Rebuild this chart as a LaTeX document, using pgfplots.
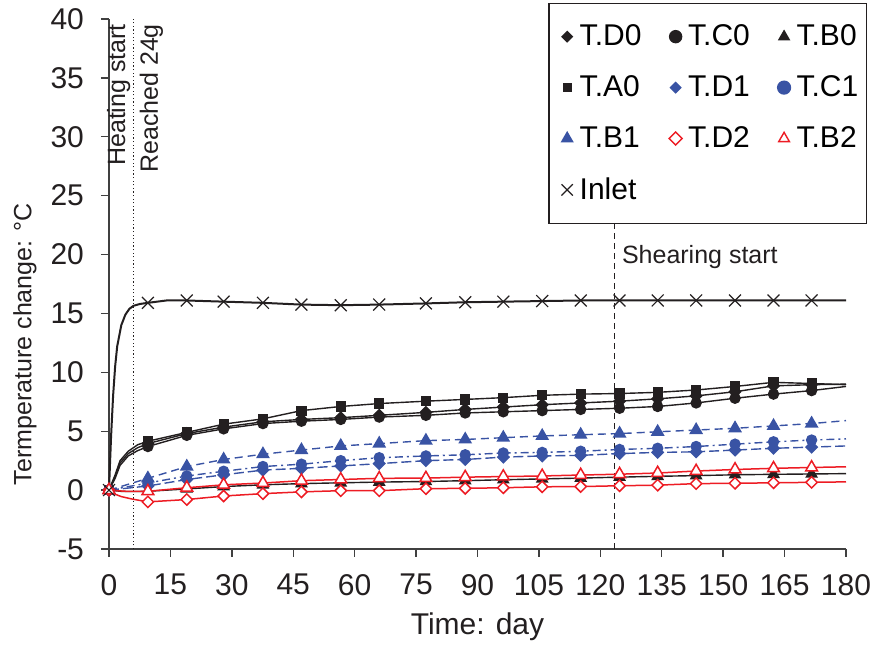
\documentclass[border=0pt]{standalone}
\usepackage{fontspec}
\setmainfont{Liberation Sans}
\usepackage{pgfplots}
\pgfplotsset{compat=1.18}
\definecolor{cblue}{HTML}{3953A4}
\definecolor{cred}{HTML}{ED1C24}
\definecolor{cblk}{HTML}{231F20}

\pgfplotsset{
  mkE/.style={mark indices={1,6,7,8,9,10,11,12,13,14,15,16,17,18,19,20,21,22,23}},
  mkB/.style={mark indices={1,2,3,4,5,6,7,8,9,10,11,12,13,14,15,16,17,18,19}},
  mkR/.style={mark indices={1,3,4,5,6,7,8,9,10,11,12,13,14,15,16,17,18,19,20}},
  mkD/.style={mark indices={1,5,6,7,8,9,10,11,12,13,14,15,16,17,18,19,20,21,22}},
  mkI/.style={mark indices={1,11,13,14,15,16,17,18,19,20,21,22,23,24,25,26,27,28,29}},
  lg/.style={only marks, legend image code/.code={
      \path[draw=none, fill=none] (0cm,-0.1cm) rectangle (0.4cm,0.1cm);
      \draw[##1] plot coordinates {(0.25cm,0cm)};}},
}

\begin{document}
\begin{tikzpicture}
\begin{axis}[
  scale only axis, width=368.5pt, height=265pt,
  xmin=0, xmax=180, ymin=-5, ymax=40,
  axis lines=left,
  every outer x axis line/.append style={-},
  every outer y axis line/.append style={-},
  axis line style={-, black!75, line width=0.7pt},
  xtick={0,15,...,180}, ytick={-5,0,...,40},
  tick align=outside, major tick length=4pt,
  tick style={black!75, line width=0.7pt},
  minor tick num=0,
  /pgf/number format/assume math mode=true,
  tick label style={font=\fontsize{15}{18}\selectfont, text=cblk},
  xticklabel style={yshift=-5pt},
  yticklabel style={xshift=-5pt},
  clip=false,
  legend columns=3,
  legend cell align=left,
  legend style={at={(1.0285,1.0302)}, anchor=north east, draw=cblk,
    line width=0.7pt, fill=white, font=\fontsize{15}{18}\selectfont,
    inner xsep=2pt, inner ysep=8.5pt, row sep=9.5pt,
    /tikz/every even column/.append style={column sep=8pt}},
]
\coordinate (bl) at (rel axis cs:0,0);
\coordinate (tr) at (rel axis cs:1,1);

% marker lines
\draw[cblk, line width=0.6pt, dash pattern=on 0.6pt off 1.2pt] (axis cs:6,-5) -- (axis cs:6,40);
\draw[cblk, line width=0.6pt, dash pattern=on 3pt off 2pt] (axis cs:123.5,-5) -- (axis cs:123.5,40);

% T.D0
\addplot[cblk, line width=0.7pt, mark=square*, mark size=2pt, mark options={rotate=45}, mkE, forget plot] coordinates {
(0,0) (1.5,1.15) (2.7,2.3) (4.7,3.1) (7,3.6) (9.5,3.95) (19,4.8) (28,5.35) (37.6,5.8) (47,6.0) (56.6,6.15) (66,6.35) (77.4,6.6) (87,6.85) (96.3,7.05) (105.8,7.25) (115.2,7.4) (124.7,7.55) (134,7.75) (143.4,8.0) (152.9,8.35) (162.3,8.85) (171.6,8.95) (180,9.0)};
% T.C0
\addplot[cblk, line width=0.7pt, mark=*, mark size=2.5pt, mkE, forget plot] coordinates {
(0,0) (1.5,1.0) (2.7,2.1) (4.7,2.9) (7,3.35) (9.5,3.7) (19,4.65) (28,5.2) (37.6,5.65) (47,5.85) (56.6,6.0) (66,6.2) (77.4,6.35) (87,6.55) (96.3,6.65) (105.8,6.75) (115.2,6.85) (124.7,6.95) (134,7.1) (143.4,7.4) (152.9,7.8) (162.3,8.15) (171.6,8.45) (180,8.8)};
% T.B0
\addplot[cblk, line width=0.7pt, mark=triangle*, mark size=3pt, mkE, forget plot] coordinates {
(0,0) (1.5,-0.05) (2.7,-0.1) (4.7,-0.12) (7,-0.12) (9.5,-0.1) (19,0.1) (28,0.3) (37.6,0.45) (47,0.55) (56.6,0.62) (66,0.68) (77.4,0.73) (87,0.8) (96.3,0.88) (105.8,0.95) (115.2,1.02) (124.7,1.1) (134,1.17) (143.4,1.23) (152.9,1.3) (162.3,1.34) (171.6,1.37) (180,1.4)};
% T.A0
\addplot[cblk, line width=0.7pt, mark=square*, mark size=2.2pt, mkE, forget plot] coordinates {
(0,0) (1.5,1.3) (2.7,2.5) (4.7,3.3) (7,3.85) (9.5,4.15) (19,4.9) (28,5.6) (37.6,6.05) (47,6.75) (56.6,7.1) (66,7.35) (77.4,7.55) (87,7.7) (96.3,7.85) (105.8,8.05) (115.2,8.15) (124.7,8.2) (134,8.3) (143.4,8.5) (152.9,8.8) (162.3,9.15) (171.6,9.05) (180,8.95)};

% T.D1
\addplot[cblue, line width=0.7pt, dash pattern=on 5pt off 2pt, mark=square*, mark size=2pt, mark options={solid, rotate=45}, mkB, forget plot] coordinates {
(0,0) (9.5,0.35) (19,0.9) (28,1.3) (37.6,1.7) (47,1.85) (56.6,2.05) (66,2.25) (77.4,2.5) (87,2.6) (96.3,2.8) (105.8,2.9) (115.2,2.95) (124.7,3.1) (134,3.2) (143.4,3.25) (152.9,3.4) (162.3,3.55) (171.6,3.65) (180,3.75)};
% T.C1
\addplot[cblue, line width=0.7pt, dash pattern=on 4pt off 2pt on 1pt off 2pt, mark=*, mark size=2.5pt, mark options={solid}, mkB, forget plot] coordinates {
(0,0) (9.5,0.6) (19,1.2) (28,1.6) (37.6,2.0) (47,2.2) (56.6,2.5) (66,2.75) (77.4,2.9) (87,3.0) (96.3,3.15) (105.8,3.2) (115.2,3.3) (124.7,3.45) (134,3.55) (143.4,3.7) (152.9,3.9) (162.3,4.1) (171.6,4.25) (180,4.35)};
% T.B1
\addplot[cblue, line width=0.7pt, dash pattern=on 4pt off 2.5pt, mark=triangle*, mark size=3.3pt, mark options={solid}, mkB, forget plot] coordinates {
(0,0) (9.5,1.0) (19,2.0) (28,2.6) (37.6,3.05) (47,3.4) (56.6,3.75) (66,3.95) (77.4,4.2) (87,4.3) (96.3,4.45) (105.8,4.6) (115.2,4.7) (124.7,4.8) (134,4.95) (143.4,5.1) (152.9,5.25) (162.3,5.45) (171.6,5.65) (180,5.9)};

% T.D2
\addplot[cred, line width=0.75pt, mark=square*, mark size=2pt, mark options={rotate=45, fill=white}, mkD, forget plot] coordinates {
(0,0) (1.5,-0.35) (3,-0.55) (5.5,-0.75) (9.5,-1.0) (19,-0.8) (28,-0.5) (37.6,-0.3) (47,-0.15) (56.6,-0.05) (66,-0.05) (77.4,0.12) (87,0.15) (96.3,0.2) (105.8,0.28) (115.2,0.3) (124.7,0.37) (134,0.42) (143.4,0.55) (152.9,0.58) (162.3,0.62) (171.6,0.66) (180,0.7)};
% T.B2
\addplot[cred, line width=0.75pt, mark=triangle*, mark size=3.4pt, mark options={fill=white}, mkR, forget plot] coordinates {
(0,0) (4,-0.1) (9.5,-0.1) (19,0.2) (28,0.45) (37.6,0.6) (47,0.8) (56.6,0.9) (66,1.0) (77.4,1.02) (87,1.1) (96.3,1.15) (105.8,1.2) (115.2,1.28) (124.7,1.35) (134,1.45) (143.4,1.62) (152.9,1.75) (162.3,1.85) (171.6,1.92) (180,1.98)};

% Inlet
\addplot[cblk, line width=1pt, mark=x, mark size=4.2pt, mark options={line width=0.6pt}, mkI, forget plot] coordinates {
(0,0) (0.5,4.5) (1,8) (1.5,10.5) (2,12.2) (3,14.0) (4,14.9) (5,15.4) (6,15.65) (7.5,15.8) (9.5,15.9) (14,16.1) (19,16.1) (28,16.0) (37.6,15.9) (47,15.75) (56.6,15.7) (66,15.75) (77.4,15.85) (87,15.95) (96.3,16.0) (105.8,16.05) (115.2,16.1) (124.7,16.1) (134,16.1) (143.4,16.1) (152.9,16.1) (162.3,16.1) (171.6,16.1) (180,16.1)};

% legend entries
\addlegendimage{lg, cblk, mark=square*, mark size=1.8pt, mark options={rotate=45}}
\addlegendimage{lg, cblk, mark=*, mark size=3pt}
\addlegendimage{lg, cblk, mark=triangle*, mark size=2.9pt}
\addlegendimage{lg, cblk, mark=square*, mark size=1.9pt}
\addlegendimage{lg, cblue, mark=square*, mark size=1.8pt, mark options={rotate=45}}
\addlegendimage{lg, cblue, mark=*, mark size=3.2pt}
\addlegendimage{lg, cblue, mark=triangle*, mark size=3.1pt}
\addlegendimage{lg, cred, mark=square*, mark size=2.3pt, mark options={rotate=45, fill=white}}
\addlegendimage{lg, cred, mark=triangle*, mark size=3.1pt, mark options={fill=white}}
\addlegendimage{lg, cblk, mark=x, mark size=4pt, mark options={line width=0.6pt}}
\legend{T.D0, T.C0, T.B0, T.A0, T.D1, T.C1, T.B1, T.D2, T.B2, Inlet}

% annotations
\node[rotate=90, anchor=south east, inner sep=0pt, font=\fontsize{12.5}{15}\selectfont, text=cblk] at (axis cs:5.3,39.6) {Heating start};
\node[rotate=90, anchor=north east, inner sep=0pt, font=\fontsize{12.5}{15}\selectfont, text=cblk] at (axis cs:7.4,39.6) {Reached 24g};
\node[anchor=base west, inner sep=0pt, font=\fontsize{12.5}{15}\selectfont, text=cblk] at (axis cs:125.2,19.2) {Shearing start};
\node[rotate=90, font=\fontsize{12.5}{15}\selectfont, text=cblk] at ([xshift=-42pt]axis cs:0,12.4) {Termperature change: °C};
\node[font=\fontsize{15}{18}\selectfont, text=cblk] at ([yshift=-39pt]axis cs:90,-5) {Time: day};
\end{axis}
\pgfresetboundingbox
\path ([xshift=-54.5pt,yshift=-48.5pt]bl) rectangle ([xshift=13.5pt,yshift=9.5pt]tr);
\end{tikzpicture}
\end{document}
